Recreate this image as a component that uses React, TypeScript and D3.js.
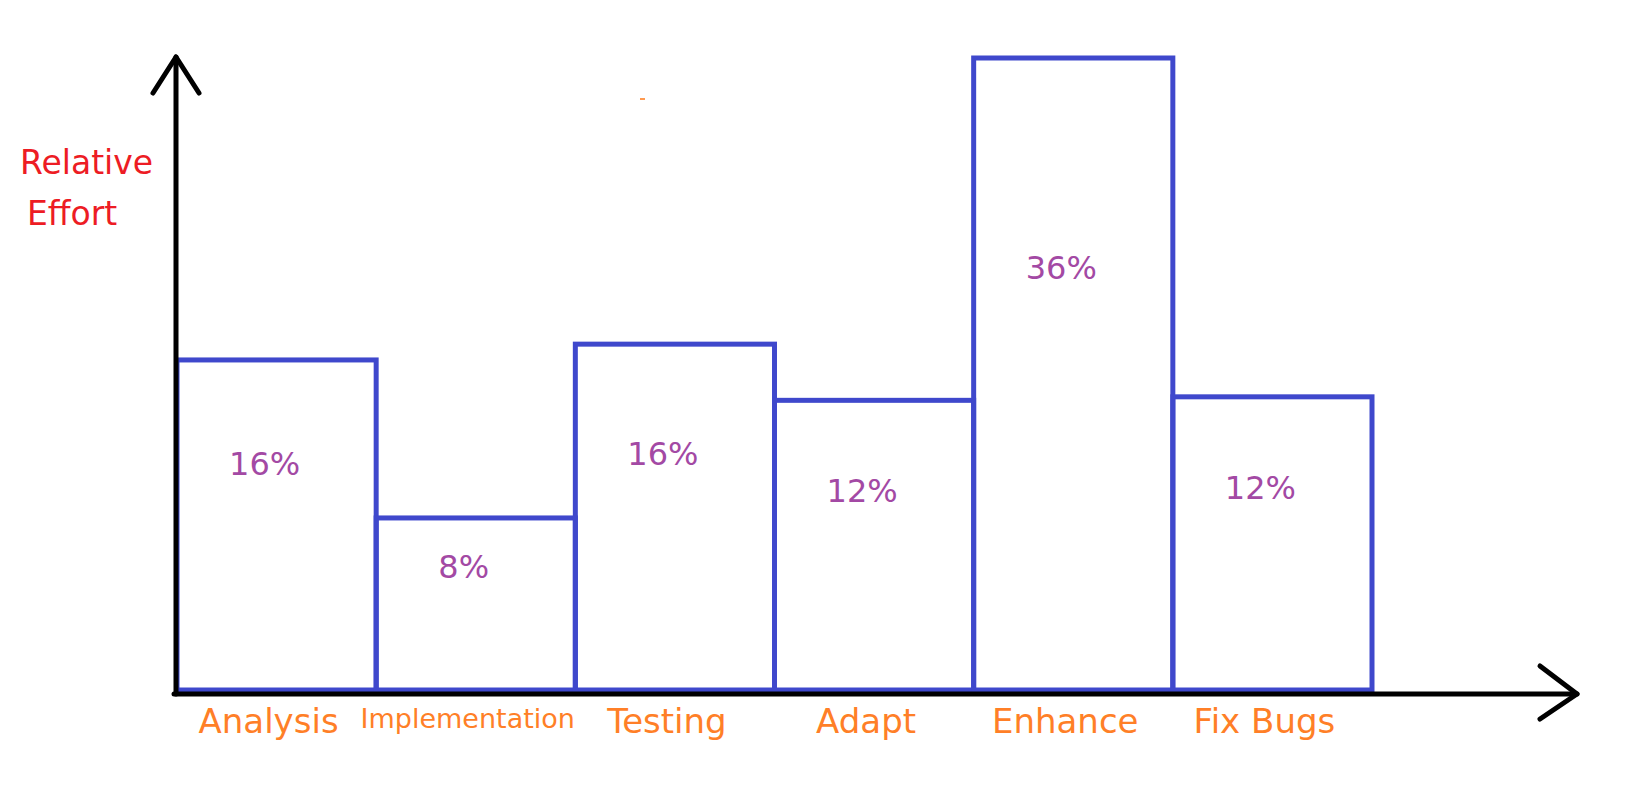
import React, { useEffect, useRef } from 'react';
import * as d3 from 'd3';

// phases of the work, left to right
const phases = ['Analysis', 'Implementation', 'Testing', 'Adapt', 'Enhance', 'Fix Bugs'];
// bar lengths as they are drawn (same units as the labels, 36 = tallest)
const drawnEffort = [18.8, 9.8, 19.7, 16.5, 36, 16.7];
// the percentages written inside the bars
const effortLabels = ['16%', '8%', '16%', '12%', '36%', '12%'];
const axisTitle = ['Relative', 'Effort'];

const App = () => {
    const svgRef = useRef(null);

    useEffect(() => {
        const width = 1632;
        const height = 791;
        const font = 'DejaVu Sans, Verdana, sans-serif';

        const x = d3.scaleBand()
            .domain(phases)
            .range([177, 1372])
            .padding(0);

        const y = d3.scaleLinear()
            .domain([0, d3.max(drawnEffort)])
            .range([690, 58]);

        const svg = d3.select(svgRef.current);
        svg.selectAll('*').remove();

        svg.attr('width', width).attr('height', height);

        svg.append('rect')
            .attr('width', width)
            .attr('height', height)
            .attr('fill', '#ffffff');

        // bars
        svg.append('g')
            .selectAll('rect')
            .data(phases)
            .join('rect')
            .attr('x', (d) => x(d))
            .attr('y', (_, i) => y(drawnEffort[i]))
            .attr('width', x.bandwidth())
            .attr('height', (_, i) => y(0) - y(drawnEffort[i]))
            .attr('fill', 'none')
            .attr('stroke', '#3f48cc')
            .attr('stroke-width', 5);

        // values inside bars
        svg.append('g')
            .selectAll('text')
            .data(effortLabels)
            .join('text')
            .attr('x', (_, i) => x(phases[i]) + x.bandwidth() / 2 - 12)
            .attr('y', (_, i) => {
                const top = y(drawnEffort[i]);
                return top + (y(0) - top) * 0.35;
            })
            .attr('text-anchor', 'middle')
            .attr('font-family', font)
            .attr('font-size', 32)
            .attr('fill', '#a349a4')
            .text((d) => d);

        // axes with arrow heads
        const x0 = x.range()[0] - 1;
        const yBase = y(0) + 4;
        const xEnd = 1577;
        const yTop = 57;

        const axis = svg.append('g')
            .attr('fill', 'none')
            .attr('stroke', '#000000')
            .attr('stroke-width', 5)
            .attr('stroke-linecap', 'round')
            .attr('stroke-linejoin', 'round');

        axis.append('path')
            .attr('d', d3.line()([[x0, yBase], [x0, yTop]]));
        axis.append('path')
            .attr('d', d3.line()([[x0 - 23, yTop + 36], [x0, yTop], [x0 + 23, yTop + 36]]));
        axis.append('path')
            .attr('d', d3.line()([[x0 - 2, yBase], [xEnd, yBase]]));
        axis.append('path')
            .attr('d', d3.line()([[xEnd - 37, yBase - 28], [xEnd, yBase], [xEnd - 37, yBase + 25]]));

        // category labels
        svg.append('g')
            .selectAll('text')
            .data(phases)
            .join('text')
            .attr('x', (d) => x(d) + x.bandwidth() / 2 - 8)
            .attr('y', (d) => (d === 'Implementation' ? 728 : 733))
            .attr('text-anchor', 'middle')
            .attr('font-family', font)
            .attr('font-size', (d) => (d === 'Implementation' ? 27 : 34))
            .attr('fill', '#ff7f27')
            .text((d) => d);

        // y axis title
        svg.append('g')
            .selectAll('text')
            .data(axisTitle)
            .join('text')
            .attr('x', (_, i) => 20 + i * 7)
            .attr('y', (_, i) => 174 + i * 51)
            .attr('font-family', font)
            .attr('font-size', 33)
            .attr('fill', '#ed1c24')
            .text((d) => d);

        // stray speck left on the sketch
        svg.append('rect')
            .attr('x', 640)
            .attr('y', 98)
            .attr('width', 5)
            .attr('height', 2)
            .attr('fill', '#ff9a50');
    }, []);

    return (
        <svg ref={svgRef} style={{ position: 'absolute', left: 0, top: 0, display: 'block' }}></svg>
    );
};

export default App;
